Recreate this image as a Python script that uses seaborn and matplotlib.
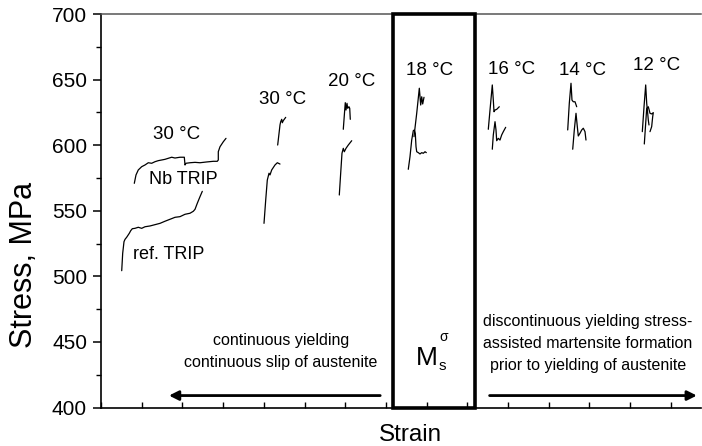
import matplotlib
matplotlib.use("Agg")
import matplotlib.pyplot as plt
import numpy as np
import pandas as pd
import seaborn as sns
from matplotlib.patches import Rectangle
from matplotlib.ticker import MultipleLocator

# ---------------- data (strain in arbitrary units, stress in MPa) ----------------
ref30_x = [0.509, 0.533, 0.565, 0.590, 0.631, 0.695, 0.730, 0.769, 0.835, 0.916, 1.000, 1.081,
           1.204, 1.327, 1.450, 1.572, 1.654, 1.737, 1.818, 1.941, 2.064, 2.187, 2.268, 2.310,
           2.366, 2.432, 2.489]
ref30_y = [504.3, 517.6, 526.4, 528.2, 529.8, 532.8, 534.8, 536.3, 536.6, 537.4, 536.6, 537.8,
           538.4, 539.4, 540.4, 542.0, 543.0, 544.0, 545.0, 545.5, 547.3, 548.1, 549.6, 551.1,
           555.7, 560.7, 564.8]

nb30_x = [0.818, 0.860, 0.916, 1.000, 1.081, 1.162, 1.246, 1.327, 1.408, 1.491, 1.572, 1.654,
          1.737, 1.818, 1.941, 2.047, 2.064, 2.088, 2.187, 2.310, 2.432, 2.597, 2.759, 2.857,
          2.882, 2.882, 2.924, 3.005, 3.071]
nb30_y = [570.9, 577.3, 581.1, 583.6, 584.9, 586.6, 586.2, 587.4, 588.2, 588.7, 589.2, 590.0,
          590.8, 590.2, 590.8, 590.8, 584.9, 586.2, 586.6, 586.9, 586.6, 587.2, 587.7, 587.7,
          588.7, 595.0, 598.8, 602.6, 605.2]

ref30b_x = [4.005, 4.047, 4.086, 4.128, 4.152, 4.194, 4.275, 4.332, 4.398]
ref30b_y = [540.4, 558.2, 573.4, 578.6, 577.3, 581.1, 584.9, 586.6, 585.6]
nb30b_x = [4.341, 4.398, 4.415, 4.440, 4.455, 4.479, 4.538]
nb30b_y = [600.1, 615.4, 617.9, 619.7, 617.1, 618.7, 621.2]

ref20_x = [5.855, 5.889, 5.921, 5.953, 5.978, 6.020, 6.076, 6.160]
ref20_y = [562.0, 578.6, 593.8, 597.6, 595.0, 597.6, 600.1, 603.4]
nb20_x = [5.953, 5.988, 6.002, 6.020, 6.044, 6.061, 6.093, 6.111, 6.125]
nb20_y = [612.1, 626.8, 632.4, 626.8, 631.9, 628.1, 629.3, 628.1, 619.7]

ref18_x = [7.550, 7.592, 7.634, 7.673, 7.698, 7.722, 7.740, 7.757, 7.796, 7.838, 7.880, 7.919,
           7.961, 7.993]
ref18_y = [581.6, 591.2, 603.9, 611.0, 611.6, 609.1, 598.8, 595.0, 594.3, 593.3, 594.3, 593.8,
           595.0, 594.3]
nb18_x = [7.690, 7.757, 7.821, 7.855, 7.880, 7.904, 7.936]
nb18_y = [606.5, 624.3, 643.4, 630.6, 636.9, 631.4, 636.5]

nb16_x = [9.516, 9.558, 9.614, 9.639, 9.656, 9.681, 9.722, 9.786]
nb16_y = [612.1, 626.8, 645.9, 634.4, 625.5, 626.8, 627.3, 629.3]
ref16_x = [9.614, 9.639, 9.681, 9.705, 9.722, 9.762, 9.803, 9.845, 9.885, 9.943]
ref16_y = [596.9, 607.8, 617.9, 611.6, 603.4, 605.2, 603.9, 607.8, 610.3, 613.6]

nb14_x = [11.467, 11.506, 11.548, 11.572, 11.604, 11.646, 11.688]
nb14_y = [611.6, 631.9, 647.2, 634.4, 633.1, 633.1, 629.3]
ref14_x = [11.590, 11.629, 11.671, 11.703, 11.727, 11.769, 11.811, 11.850, 11.892, 11.916]
ref14_y = [596.9, 611.6, 624.3, 614.1, 607.0, 609.1, 611.6, 612.9, 610.3, 603.9]

nb12_x = [13.300, 13.342, 13.383, 13.408, 13.432, 13.447, 13.464]
nb12_y = [610.3, 629.3, 645.9, 631.9, 624.3, 619.2, 615.4]
ref12_x = [13.349, 13.383, 13.408, 13.447, 13.489, 13.530, 13.570, 13.555, 13.530, 13.489]
ref12_y = [600.9, 616.7, 628.1, 629.3, 624.3, 623.8, 624.8, 621.7, 614.1, 610.3]

temp_labels = ["30 °C", "30 °C", "20 °C", "18 °C", "16 °C", "14 °C", "12 °C"]
temp_x = [1.860, 4.464, 6.160, 8.066, 10.091, 11.835, 13.654]
temp_y = [607.8, 635.0, 648.4, 656.8, 657.8, 657.3, 660.4]

y_ticks = [400, 450, 500, 550, 600, 650, 700]

curves = {
    "ref30": (ref30_x, ref30_y), "nb30": (nb30_x, nb30_y),
    "ref30b": (ref30b_x, ref30b_y), "nb30b": (nb30b_x, nb30b_y),
    "ref20": (ref20_x, ref20_y), "nb20": (nb20_x, nb20_y),
    "ref18": (ref18_x, ref18_y), "nb18": (nb18_x, nb18_y),
    "nb16": (nb16_x, nb16_y), "ref16": (ref16_x, ref16_y),
    "nb14": (nb14_x, nb14_y), "ref14": (ref14_x, ref14_y),
    "nb12": (nb12_x, nb12_y), "ref12": (ref12_x, ref12_y),
}
rows = []
for name, (xs, ys) in curves.items():
    for i, (x, y) in enumerate(zip(xs, ys)):
        rows.append({"curve": name, "order": i, "strain": x, "stress": y})
df = pd.DataFrame(rows)

# ---------------- figure ----------------
sns.set_style("ticks")
plt.rcParams["font.family"] = ["Liberation Sans", "DejaVu Sans"]
plt.rcParams["text.color"] = "black"

fig = plt.figure(figsize=(7.02, 4.46), dpi=100)
ax = fig.add_axes([101 / 702, 1 - 407.5 / 446, 600 / 702, (407.5 - 14) / 446])

sns.lineplot(data=df, x="strain", y="stress", units="curve", estimator=None, sort=False,
             color="black", lw=0.9, ax=ax, legend=False)

ax.set_xlim(0, 600 / 40.7)
ax.set_ylim(400, 700)
ax.set_yticks(y_ticks)
ax.yaxis.set_minor_locator(MultipleLocator(25))
ax.set_xticks(np.arange(0, 15))
ax.tick_params(axis="y", which="major", direction="out", length=6, width=1.1,
               labelsize=15, pad=4, colors="black")
ax.tick_params(axis="y", which="minor", direction="out", length=3.5, width=1.0, colors="black")
ax.tick_params(axis="x", which="major", direction="in", length=4, width=1.0,
               labelbottom=False, colors="black")
ax.set_xlabel("")
ax.set_ylabel("")
ax.spines["right"].set_visible(False)
ax.spines["top"].set_color("#555555")
ax.spines["top"].set_linewidth(1.1)
for s in ("left", "bottom"):
    ax.spines[s].set_linewidth(1.2)
    ax.spines[s].set_color("black")

fig.text(410 / 702, 1 - 441 / 446, "Strain", fontsize=17.5, ha="center", va="baseline",
         color="black")
fig.text(24 / 702, 1 - 265 / 446, "Stress, MPa", fontsize=22, rotation=90,
         ha="center", va="center", color="black")

# temperature labels
for lab, x, y in zip(temp_labels, temp_x, temp_y):
    ax.text(x, y, lab, fontsize=13.5, ha="center", va="center", color="black")
ax.text(2.022, 574.0, "Nb TRIP", fontsize=13, ha="center", va="center", color="black")
ax.text(1.654, 516.3, "ref. TRIP", fontsize=13, ha="center", va="center", color="black")

# M_s^sigma box
ax.add_patch(Rectangle((7.17, 400), 9.19 - 7.17, 300, fill=False, lw=2.6,
                       ec="black", clip_on=False, zorder=4))
ax.text(8.01, 437.7, "M", fontsize=19, ha="center", va="center", color="black")
ax.text(8.38, 432.0, "s", fontsize=11, ha="center", va="center", color="black")
ax.text(8.41, 453.8, "σ", fontsize=10, ha="center", va="center", color="black")

# explanatory texts
ax.text(4.418, 450.7, "continuous yielding", fontsize=11.5, ha="center", va="center")
ax.text(4.418, 434.2, "continuous slip of austenite", fontsize=11.5, ha="center", va="center")
ax.text(11.966, 465.2, "discontinuous yielding stress-", fontsize=11.5, ha="center", va="center")
ax.text(11.966, 448.8, "assisted martensite formation", fontsize=11.5, ha="center", va="center")
ax.text(11.966, 432.4, "prior to yielding of austenite", fontsize=11.5, ha="center", va="center")

# arrows
arrow_kw = dict(arrowstyle="-|>", color="black", lw=2, mutation_scale=14,
                shrinkA=0, shrinkB=0)
ax.annotate("", xy=(1.67, 409.1), xytext=(6.86, 409.1), arrowprops=arrow_kw)
ax.annotate("", xy=(14.64, 409.1), xytext=(9.548, 409.1), arrowprops=arrow_kw)

fig.savefig("out.png", dpi=100)
